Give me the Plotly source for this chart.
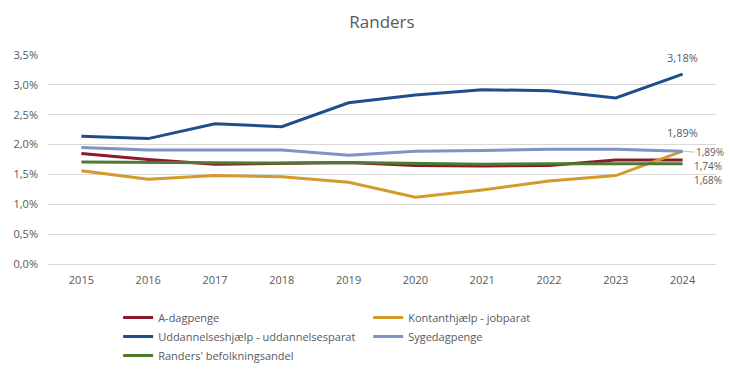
import plotly.graph_objects as go

years = ["2015", "2016", "2017", "2018", "2019", "2020", "2021", "2022", "2023", "2024"]
a_dagpenge = [1.85, 1.75, 1.67, 1.68, 1.70, 1.65, 1.64, 1.65, 1.74, 1.74]
kontanthjaelp = [1.56, 1.42, 1.48, 1.46, 1.37, 1.12, 1.24, 1.39, 1.48, 1.89]
uddannelse = [2.14, 2.10, 2.35, 2.30, 2.70, 2.83, 2.92, 2.90, 2.78, 3.18]
sygedagpenge = [1.95, 1.91, 1.91, 1.91, 1.82, 1.89, 1.90, 1.92, 1.92, 1.89]
befolkning = [1.71, 1.70, 1.70, 1.69, 1.70, 1.68, 1.67, 1.68, 1.68, 1.68]

series = [
    ("A-dagpenge", a_dagpenge, "#8B1A2E"),
    ("Kontanthjælp - jobparat", kontanthjaelp, "#D39A2C"),
    ("Uddannelseshjælp - uddannelsesparat", uddannelse, "#1F4E8C"),
    ("Sygedagpenge", sygedagpenge, "#7F93C6"),
    ("Randers' befolkningsandel", befolkning, "#4E7A2E"),
]

fig = go.Figure()
for name, vals, col in series:
    fig.add_trace(go.Scatter(x=years, y=vals, name=name, mode="lines",
                             line=dict(color=col, width=3)))

FAM = "Open Sans, Liberation Sans, sans-serif"
fnt = dict(family=FAM, size=11, color="#595959")
sfnt = dict(family=FAM, size=10, color="#595959")
li = len(years) - 1  # category index of last year


def lbl(v):
    return f"{v:.2f}".replace(".", ",") + "%"


annotations = [
    dict(xref="x", yref="y", x=li, y=uddannelse[-1], text=lbl(uddannelse[-1]),
         showarrow=False, yshift=17, font=fnt),
    dict(xref="x", yref="y", x=li, y=sygedagpenge[-1], text=lbl(sygedagpenge[-1]),
         showarrow=False, yshift=19, font=fnt),
    dict(xref="x", yref="y", x=li, y=kontanthjaelp[-1], text=lbl(kontanthjaelp[-1]),
         showarrow=True, arrowhead=0, arrowcolor="#BFBFBF", arrowwidth=1,
         ax=12, ay=1, xanchor="left", font=sfnt, borderpad=0),
    dict(xref="x", yref="y", x=li, y=a_dagpenge[-1], text=lbl(a_dagpenge[-1]),
         showarrow=False, xanchor="left", xshift=10, yshift=-6, font=sfnt, borderpad=0),
    dict(xref="x", yref="y", x=li, y=befolkning[-1], text=lbl(befolkning[-1]),
         showarrow=False, xanchor="left", xshift=10, yshift=-16, font=sfnt, borderpad=0),
]

fig.update_layout(
    width=735, height=383,
    margin=dict(l=48, r=19, t=55, b=119, autoexpand=False),
    paper_bgcolor="white", plot_bgcolor="white",
    separators=", ",
    title=dict(text="Randers", x=0.5, xanchor="center", xref="paper",
               y=1 - 22 / 383, yanchor="middle", yref="container",
               font=dict(family=FAM, size=17, color="#595959")),
    font=fnt,
    xaxis=dict(type="category", range=[-0.5, 9.5], showgrid=False, showline=False,
               ticks="", tickfont=fnt, ticklabelstandoff=8),
    yaxis=dict(range=[0, 3.5], dtick=0.5, tickformat=".1f", ticksuffix="%",
               showgrid=True, gridcolor="#D9D9D9", gridwidth=1, zeroline=True,
               zerolinecolor="#D9D9D9", zerolinewidth=1, showline=False, ticks="",
               tickfont=fnt, ticklabelstandoff=9),
    legend=dict(orientation="h", x=0.105, xanchor="left", y=1 - 303 / 383, yanchor="top",
                yref="container",
                entrywidth=205, entrywidthmode="pixels", tracegroupgap=0,
                font=dict(family=FAM, size=11, color="#595959"), itemwidth=30,
                traceorder="normal"),
    annotations=annotations,
    showlegend=True,
)

fig.write_html("out.html", config={"displayModeBar": False},
               post_script="document.body.style.margin='0';")
